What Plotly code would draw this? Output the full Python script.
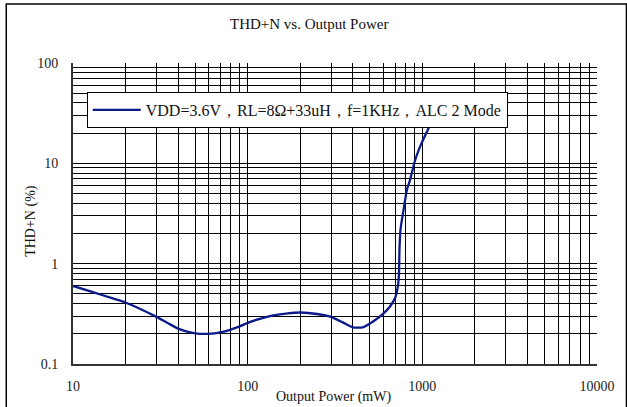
import plotly.graph_objects as go

# THD+N versus output power, VDD=3.6V, RL=8Ω+33uH, f=1KHz, ALC 2 mode
power_mw = [10, 13, 16.9, 20, 25, 30, 35, 40, 45, 50, 60, 73, 90, 100, 120, 140,
            170, 200, 250, 300, 350, 400, 456, 530, 600, 650, 700, 725, 735, 740,
            750, 780, 815, 850, 910, 990, 1080, 1150]
thdn_pct = [0.6, 0.52, 0.45, 0.41, 0.345, 0.295, 0.255, 0.225, 0.21, 0.202, 0.2,
            0.21, 0.237, 0.257, 0.285, 0.305, 0.32, 0.326, 0.315, 0.295, 0.26,
            0.232, 0.232, 0.27, 0.32, 0.37, 0.46, 0.6, 0.8, 1.4, 2.2, 3.4, 5.4,
            6.8, 10.8, 15.9, 22, 28]

series_name = "VDD=3.6V，RL=8Ω+33uH，f=1KHz，ALC 2 Mode"
x_tick_vals = [10, 100, 1000, 10000]
x_tick_text = ["10", "100", "1000", "10000"]
y_tick_vals = [0.1, 1, 10, 100]
y_tick_text = ["0.1", "1", "10", "100"]

FONT = "Liberation Serif"
W, H = 627, 407
L, R, T, B = 73, 20, 63, 43
PW, PH = W - L - R, H - T - B


def px_x(p):
    return (p - L) / PW


def px_y(p):
    return (H - B - p) / PH


fig = go.Figure()
fig.add_trace(go.Scatter(
    x=power_mw, y=thdn_pct, mode="lines", name=series_name,
    line=dict(color="#0b1a8a", width=2.3, shape="spline", smoothing=0.6),
))

grid = dict(showgrid=True, gridcolor="#000000", gridwidth=1)
fig.update_xaxes(
    type="log", range=[1, 4], tickvals=x_tick_vals, ticktext=x_tick_text,
    ticks="", showline=True, linecolor="#333333", linewidth=2, mirror=False,
    minor=dict(dtick="D1", **grid), zeroline=False, ticklabelstandoff=8,
    tickfont=dict(family=FONT, size=14, color="#222222"), **grid,
)
fig.update_yaxes(
    type="log", range=[-1, 2], tickvals=y_tick_vals, ticktext=y_tick_text,
    ticks="", showline=True, linecolor="#333333", linewidth=2, mirror=False,
    minor=dict(dtick="D1", **grid), zeroline=False, ticklabelstandoff=10,
    tickfont=dict(family=FONT, size=14, color="#222222"), **grid,
)

# outer frame
fig.add_shape(type="rect", xref="paper", yref="paper",
              x0=px_x(5), x1=px_x(W + 10), y0=px_y(H + 10), y1=px_y(4),
              line=dict(color="#000000", width=1.5), layer="below")

# legend shadow
fig.add_shape(type="rect", xref="paper", yref="paper",
              x0=px_x(89), x1=px_x(505), y0=px_y(127), y1=px_y(94),
              line=dict(width=0), fillcolor="#777777", layer="above")

fig.add_annotation(text="THD+N vs. Output Power", xref="paper", yref="paper",
                   x=px_x(313), y=px_y(24), showarrow=False,
                   xanchor="center", yanchor="middle",
                   font=dict(family=FONT, size=15, color="#111111"))
fig.add_annotation(text="Output Power (mW)", xref="paper", yref="paper",
                   x=px_x(338), y=px_y(397), showarrow=False,
                   xanchor="center", yanchor="middle",
                   font=dict(family=FONT, size=14, color="#111111"))
fig.add_annotation(text="THD+N (%)", xref="paper", yref="paper",
                   x=px_x(30), y=px_y(221), showarrow=False, textangle=-90,
                   xanchor="center", yanchor="middle",
                   font=dict(family=FONT, size=14, color="#111111"))

fig.update_layout(
    width=W, height=H,
    margin=dict(l=L, r=R, t=T, b=B, pad=0),
    paper_bgcolor="white", plot_bgcolor="white",
    showlegend=True,
    legend=dict(x=px_x(87), y=px_y(92), xanchor="left", yanchor="top",
                bgcolor="white", bordercolor="#000000", borderwidth=1,
                font=dict(family=FONT, size=16, color="#111111"),
                itemwidth=48),
)

fig.write_html("out.html")
